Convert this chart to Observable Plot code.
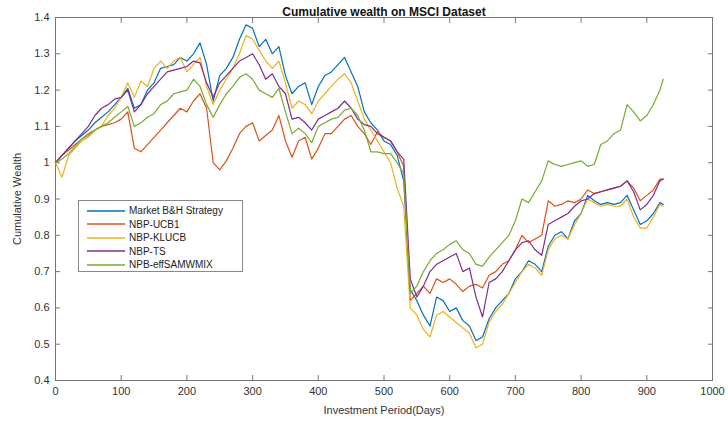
<!DOCTYPE html>
<html>
<head>
<meta charset="utf-8">
<script src="https://cdn.jsdelivr.net/npm/d3@7"></script>
<script src="https://cdn.jsdelivr.net/npm/@observablehq/plot@0.6"></script>
<style>
  html, body { margin: 0; padding: 0; background: #fff; }
  #wrap { position: relative; width: 728px; height: 423px; font-family: "Liberation Sans", Arial, sans-serif; }
  #legend { position: absolute; left: 78px; top: 200px; width: 165px; height: 72px; border: 1px solid #888; background: #fff; box-sizing: border-box; padding-top: 3px; }
  .row { display: flex; align-items: center; height: 13.5px; font-size: 10px; color: #222; }
  .row svg { margin-left: 8px; margin-right: 4px; }
</style>
</head>
<body>
<div id="wrap"></div>
<script>
const days = [0,10,20,30,40,50,60,70,80,90,100,110,120,130,140,150,160,170,180,190,200,210,220,230,240,250,260,270,280,290,300,310,320,330,340,350,360,370,380,390,400,410,420,430,440,450,460,470,480,490,500,510,520,530,540,550,560,570,580,590,600,610,620,630,640,650,660,670,680,690,700,710,720,730,740,750,760,770,780,790,800,810,820,830,840,850,860,870,880,890,900,910,920,925];

const seriesNames = ["Market B&H Strategy", "NBP-UCB1", "NBP-KLUCB", "NBP-TS", "NPB-effSAMWMIX"];
const seriesColors = ["#0072BD", "#D95319", "#EDB120", "#7E2F8E", "#77AC30"];

const market = [1.00,1.02,1.04,1.06,1.075,1.09,1.11,1.125,1.14,1.16,1.18,1.205,1.15,1.16,1.20,1.22,1.26,1.265,1.27,1.29,1.28,1.30,1.33,1.27,1.17,1.24,1.26,1.29,1.34,1.38,1.37,1.32,1.34,1.30,1.32,1.24,1.19,1.21,1.22,1.16,1.21,1.24,1.25,1.27,1.29,1.25,1.21,1.14,1.11,1.09,1.06,1.05,1.02,0.95,0.65,0.62,0.58,0.55,0.63,0.62,0.59,0.60,0.565,0.55,0.51,0.52,0.57,0.60,0.62,0.64,0.68,0.70,0.73,0.72,0.70,0.77,0.80,0.81,0.79,0.84,0.86,0.91,0.895,0.885,0.89,0.885,0.89,0.91,0.87,0.83,0.84,0.86,0.89,0.885];

const ucb1 = [1.00,1.02,1.035,1.05,1.065,1.08,1.09,1.10,1.105,1.11,1.12,1.14,1.04,1.03,1.05,1.07,1.09,1.11,1.13,1.15,1.14,1.17,1.19,1.15,1.00,0.98,1.005,1.04,1.08,1.10,1.11,1.06,1.075,1.09,1.13,1.06,1.015,1.06,1.07,1.01,1.04,1.08,1.08,1.10,1.12,1.13,1.10,1.08,1.05,1.085,1.07,1.06,1.03,0.99,0.62,0.64,0.66,0.64,0.68,0.67,0.68,0.665,0.645,0.66,0.665,0.655,0.69,0.70,0.72,0.73,0.76,0.80,0.78,0.79,0.80,0.895,0.88,0.885,0.895,0.89,0.90,0.925,0.915,0.92,0.925,0.93,0.935,0.95,0.93,0.895,0.91,0.925,0.955,0.955];

const klucb = [1.00,0.96,1.02,1.04,1.06,1.07,1.09,1.10,1.13,1.15,1.18,1.22,1.18,1.225,1.21,1.26,1.28,1.26,1.28,1.29,1.25,1.27,1.29,1.21,1.16,1.20,1.23,1.26,1.30,1.35,1.34,1.31,1.28,1.26,1.28,1.22,1.15,1.17,1.16,1.135,1.17,1.19,1.21,1.23,1.245,1.22,1.17,1.12,1.09,1.06,1.03,1.00,0.93,0.88,0.60,0.58,0.54,0.52,0.58,0.59,0.575,0.56,0.545,0.53,0.49,0.50,0.56,0.59,0.61,0.64,0.67,0.70,0.72,0.71,0.69,0.76,0.79,0.80,0.79,0.83,0.86,0.90,0.89,0.88,0.885,0.88,0.88,0.90,0.85,0.82,0.82,0.85,0.885,0.88];

const ts = [1.00,1.02,1.04,1.06,1.08,1.10,1.13,1.15,1.16,1.175,1.18,1.20,1.14,1.16,1.19,1.21,1.23,1.25,1.255,1.26,1.265,1.28,1.275,1.22,1.18,1.22,1.24,1.26,1.28,1.29,1.30,1.27,1.23,1.245,1.21,1.19,1.12,1.125,1.11,1.09,1.12,1.13,1.14,1.15,1.17,1.15,1.12,1.105,1.10,1.08,1.07,1.06,1.03,1.01,0.68,0.63,0.66,0.70,0.72,0.73,0.74,0.75,0.70,0.71,0.63,0.575,0.67,0.68,0.70,0.73,0.76,0.78,0.785,0.76,0.745,0.83,0.84,0.85,0.86,0.88,0.895,0.90,0.915,0.92,0.925,0.93,0.935,0.95,0.92,0.87,0.885,0.91,0.95,0.955];

const effsam = [1.00,1.01,1.025,1.045,1.065,1.075,1.09,1.10,1.11,1.125,1.14,1.155,1.10,1.11,1.125,1.135,1.16,1.17,1.19,1.195,1.20,1.23,1.21,1.16,1.125,1.16,1.19,1.21,1.235,1.245,1.23,1.20,1.19,1.18,1.205,1.14,1.08,1.095,1.08,1.055,1.10,1.11,1.12,1.125,1.145,1.15,1.13,1.09,1.03,1.03,1.025,1.025,1.00,0.97,0.64,0.66,0.70,0.73,0.75,0.76,0.775,0.785,0.76,0.75,0.72,0.715,0.74,0.76,0.78,0.80,0.84,0.90,0.89,0.92,0.95,1.005,0.995,0.99,0.995,1.00,1.005,0.99,0.995,1.05,1.06,1.08,1.09,1.16,1.14,1.115,1.13,1.16,1.20,1.23];

const xTicks = [0,100,200,300,400,500,600,700,800,900,1000];
const yTicks = [0.4,0.5,0.6,0.7,0.8,0.9,1,1.1,1.2,1.3,1.4];

const allSeries = [market, ucb1, klucb, ts, effsam];
const rows = [];
allSeries.forEach((vals, s) => vals.forEach((v, i) => rows.push({day: days[i], value: v, series: seriesNames[s]})));

const chart = Plot.plot({
  width: 728,
  height: 423,
  marginLeft: 55,
  marginRight: 16,
  marginTop: 17,
  marginBottom: 43,
  style: {fontFamily: '"Liberation Sans", Arial, sans-serif', fontSize: "11px", color: "#333", background: "#fff"},
  x: {domain: [0, 1000]},
  y: {domain: [0.4, 1.4]},
  color: {domain: seriesNames, range: seriesColors},
  marks: [
    Plot.frame({stroke: "#777"}),
    Plot.axisX({ticks: xTicks, tickSize: -5, tickPadding: 12, tickFormat: d => String(d), label: "Investment Period(Days)", labelAnchor: "center", labelArrow: "none", labelOffset: 33, fontSize: 11, stroke: "#777"}),
    Plot.axisX({anchor: "top", ticks: xTicks, tickSize: -5, tickFormat: () => "", label: null, stroke: "#777"}),
    Plot.axisY({ticks: yTicks, tickSize: -5, tickPadding: 11, tickFormat: d => String(d), label: "Cumulative Wealth", labelAnchor: "center", labelArrow: "none", labelOffset: 42, fontSize: 11, stroke: "#777"}),
    Plot.axisY({anchor: "right", ticks: yTicks, tickSize: -5, tickFormat: () => "", label: null, stroke: "#777"}),
    Plot.lineY(rows, {x: "day", y: "value", stroke: "series", strokeWidth: 1.2}),
    Plot.text(["Cumulative wealth on MSCI Dataset"], {frameAnchor: "top", dy: -10, fontWeight: "bold", fontSize: 12, fill: "#111"})
  ]
});

const wrap = document.getElementById("wrap");
wrap.appendChild(chart);

const legend = document.createElement("div");
legend.id = "legend";
seriesNames.forEach((name, i) => {
  const row = document.createElement("div");
  row.className = "row";
  row.innerHTML = `<svg width="38" height="4"><line x1="0" x2="38" y1="2" y2="2" stroke="${seriesColors[i]}" stroke-width="1.3"/></svg><span></span>`;
  row.querySelector("span").textContent = name;
  legend.appendChild(row);
});
wrap.appendChild(legend);
</script>
</body>
</html>
